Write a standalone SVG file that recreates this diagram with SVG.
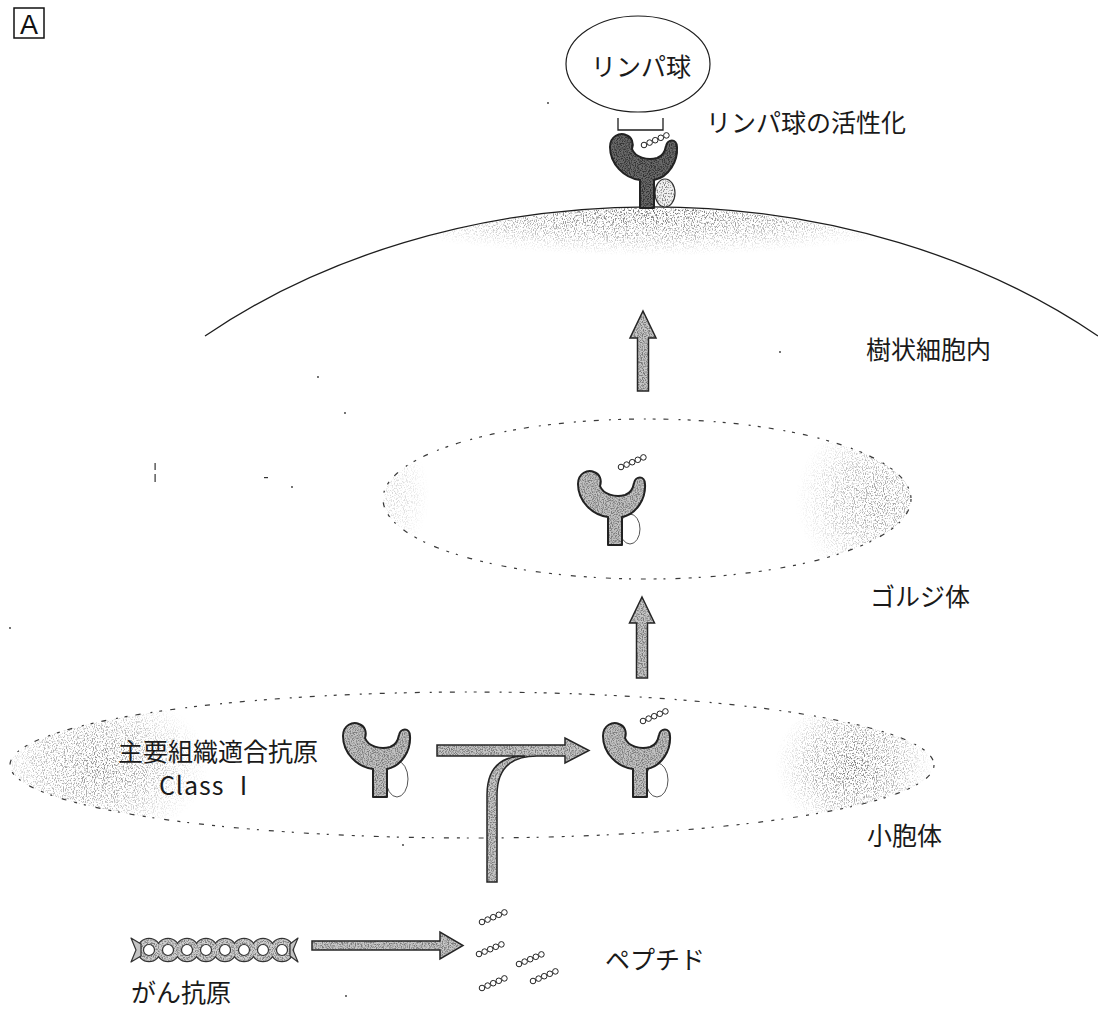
<svg xmlns="http://www.w3.org/2000/svg" xmlns:xlink="http://www.w3.org/1999/xlink" width="1098" height="1009" viewBox="0 0 1098 1009">
  <defs>
    <style>
      .lbl { font-family: "Noto Sans CJK JP", "Noto Sans", sans-serif; font-size: 25px; fill: #1a1a1a; }
      .outline { fill: none; stroke: #1e1e1e; stroke-width: 1.3; }
      .dotted { fill: none; stroke: #3a3a3a; stroke-width: 1.2; stroke-dasharray: 3 8 5 10 2 7; }
      .ybase { fill: #c2c2c2; }
      .ygrain { fill: #7c7c7c; }
      .yline { fill: none; stroke: #222; stroke-width: 2; stroke-linejoin: round; }
      .arrbase { fill: #c6c6c6; }
      .arrgrain { fill: #7a7a7a; }
      .arrline { fill: none; stroke: #262626; stroke-width: 1.5; stroke-linejoin: miter; }
      .pep { fill: #fff; stroke: #222; stroke-width: 1; }
      .b2m { fill: none; stroke: #555; stroke-width: 1; }
      .speck { fill: #333; }
    </style>

    <!-- speckled halftone texture: keeps the source only where the noise is dark -->
    <filter id="grain" x="-5%" y="-5%" width="110%" height="110%">
      <feTurbulence type="fractalNoise" baseFrequency="0.85" numOctaves="2" seed="4" result="noise"/>
      <feColorMatrix in="noise" type="matrix" values="0 0 0 0 0  0 0 0 0 0  0 0 0 0 0  4 0 0 0 -1.7" result="dots"/>
      <feComposite in="SourceGraphic" in2="dots" operator="in"/>
    </filter>
    <!-- sparser stipple for the shaded cytoplasm regions -->
    <filter id="stipple" x="-5%" y="-5%" width="110%" height="110%">
      <feTurbulence type="fractalNoise" baseFrequency="0.9 0.6" numOctaves="2" seed="9" result="noise"/>
      <feColorMatrix in="noise" type="matrix" values="0 0 0 0 0  0 0 0 0 0  0 0 0 0 0  5 0 0 0 -2.45" result="dots"/>
      <feComposite in="SourceGraphic" in2="dots" operator="in"/>
    </filter>

    <radialGradient id="shade">
      <stop offset="0" stop-color="#555" stop-opacity="1"/>
      <stop offset="0.55" stop-color="#777" stop-opacity="0.7"/>
      <stop offset="1" stop-color="#999" stop-opacity="0"/>
    </radialGradient>

    <!-- MHC class I heavy chain (Y shape), origin at stem bottom centre -->
    <path id="ymhc" d="M-7,0 L-7,-28 C-23,-30 -37,-44 -37,-61 C-37,-72 -27,-76 -21,-73 C-15,-71 -13,-65 -15,-59 C-12,-51 0,-47 10,-50 C16,-52 18,-56 19,-62 C20,-69 30,-70 30,-61 C31,-47 22,-31 7,-28 L7,0 Z"/>

    <!-- five-residue peptide chain -->
    <g id="pepchain">
      <circle class="pep" cx="0" cy="0" r="2.8"/>
      <circle class="pep" cx="5.6" cy="-2.4" r="2.8"/>
      <circle class="pep" cx="11.2" cy="-4.8" r="2.8"/>
      <circle class="pep" cx="16.8" cy="-7.2" r="2.8"/>
      <circle class="pep" cx="22.4" cy="-9.6" r="2.8"/>
    </g>

    <clipPath id="cellClip">
      <ellipse cx="650" cy="700" rx="661" ry="492"/>
    </clipPath>
    <clipPath id="golgiClip">
      <ellipse cx="647" cy="499" rx="264" ry="80"/>
    </clipPath>
    <clipPath id="erClip">
      <ellipse cx="472" cy="765" rx="462" ry="73"/>
    </clipPath>
  </defs>

  <rect width="1098" height="1009" fill="#fff"/>

  <!-- panel letter -->
  <g id="panel-label">
    <rect x="14" y="8" width="30" height="30" fill="none" stroke="#111" stroke-width="1.5"/>
    <text x="29" y="34" text-anchor="middle" font-family="Liberation Sans, sans-serif" font-size="27" fill="#111">A</text>
  </g>

  <!-- dendritic cell membrane with shaded cortex -->
  <g id="cell-membrane">
    <g clip-path="url(#cellClip)">
      <ellipse cx="650" cy="210" rx="290" ry="46" fill="url(#shade)" opacity="0.85" filter="url(#stipple)"/>
    </g>
    <path class="outline" d="M205,336 A661,492 0 0,1 1098,336"/>
  </g>

  <!-- Golgi apparatus -->
  <g id="golgi">
    <g clip-path="url(#golgiClip)">
      <ellipse cx="880" cy="500" rx="85" ry="85" fill="url(#shade)" opacity="0.6" filter="url(#stipple)"/>
      <ellipse cx="395" cy="495" rx="35" ry="55" fill="url(#shade)" opacity="0.25" filter="url(#stipple)"/>
    </g>
    <ellipse class="dotted" cx="647" cy="499" rx="264" ry="80"/>
  </g>

  <!-- endoplasmic reticulum (vesicle) -->
  <g id="er">
    <g clip-path="url(#erClip)">
      <ellipse cx="100" cy="765" rx="110" ry="75" fill="url(#shade)" opacity="0.7" filter="url(#stipple)"/>
      <ellipse cx="855" cy="765" rx="80" ry="70" fill="url(#shade)" opacity="0.8" filter="url(#stipple)"/>
    </g>
    <ellipse class="dotted" cx="472" cy="765" rx="462" ry="73"/>
  </g>

  <!-- lymphocyte -->
  <g id="lymphocyte">
    <ellipse cx="638" cy="64" rx="72" ry="48" fill="#fff" stroke="#1e1e1e" stroke-width="1.2"/>
    <text class="lbl" x="641" y="76" text-anchor="middle" font-size="27">リンパ球</text>
  </g>

  <!-- T-cell receptor contact bracket -->
  <g id="tcr-bracket">
    <path class="outline" d="M618,118 V130 H663 V118"/>
  </g>

  <!-- surface MHC class I presenting peptide -->
  <g id="mhc-surface">
    <ellipse cx="665" cy="193" rx="10" ry="14" fill="#f2f2f2" stroke="#333" stroke-width="1.2"/>
    <ellipse cx="665" cy="193" rx="9" ry="13" fill="#888" filter="url(#stipple)"/>
    <use href="#ymhc" transform="translate(647,208)" fill="#6a6a6a"/>
    <use href="#ymhc" transform="translate(647,208)" fill="#333" filter="url(#grain)"/>
    <use href="#ymhc" transform="translate(647,208)" class="yline"/>
    <use href="#pepchain" transform="translate(644,145)"/>
  </g>

  <!-- MHC class I in Golgi -->
  <g id="mhc-golgi">
    <ellipse class="b2m" cx="630" cy="529" rx="10" ry="15"/>
    <use href="#ymhc" transform="translate(615,545)" class="ybase"/>
    <use href="#ymhc" transform="translate(615,545)" class="ygrain" filter="url(#grain)"/>
    <use href="#ymhc" transform="translate(615,545)" class="yline"/>
    <use href="#pepchain" transform="translate(621,467)"/>
  </g>

  <!-- empty MHC class I in ER -->
  <g id="mhc-empty">
    <ellipse class="b2m" cx="397" cy="779" rx="11" ry="18"/>
    <use href="#ymhc" transform="translate(380,797)" class="ybase"/>
    <use href="#ymhc" transform="translate(380,797)" class="ygrain" filter="url(#grain)"/>
    <use href="#ymhc" transform="translate(380,797)" class="yline"/>
  </g>

  <!-- peptide-loaded MHC class I in ER -->
  <g id="mhc-loaded">
    <ellipse class="b2m" cx="657" cy="780" rx="11" ry="17"/>
    <use href="#ymhc" transform="translate(640,797)" class="ybase"/>
    <use href="#ymhc" transform="translate(640,797)" class="ygrain" filter="url(#grain)"/>
    <use href="#ymhc" transform="translate(640,797)" class="yline"/>
    <use href="#pepchain" transform="translate(643,721)"/>
  </g>

  <!-- cancer antigen protein -->
  <g id="cancer-antigen">
    <g stroke="#333" stroke-width="2.4" fill="#333">
      <circle cx="149" cy="950" r="11"/><circle cx="168" cy="950" r="11"/><circle cx="187" cy="950" r="11"/><circle cx="206" cy="950" r="11"/>
      <circle cx="225" cy="950" r="11"/><circle cx="244" cy="950" r="11"/><circle cx="263" cy="950" r="11"/><circle cx="282" cy="950" r="11"/>
    </g>
    <g fill="#d0d0d0">
      <circle cx="149" cy="950" r="11"/><circle cx="168" cy="950" r="11"/><circle cx="187" cy="950" r="11"/><circle cx="206" cy="950" r="11"/>
      <circle cx="225" cy="950" r="11"/><circle cx="244" cy="950" r="11"/><circle cx="263" cy="950" r="11"/><circle cx="282" cy="950" r="11"/>
    </g>
    <g fill="#808080" filter="url(#grain)">
      <circle cx="149" cy="950" r="11"/><circle cx="168" cy="950" r="11"/><circle cx="187" cy="950" r="11"/><circle cx="206" cy="950" r="11"/>
      <circle cx="225" cy="950" r="11"/><circle cx="244" cy="950" r="11"/><circle cx="263" cy="950" r="11"/><circle cx="282" cy="950" r="11"/>
    </g>
    <g fill="#fff" stroke="#333" stroke-width="1.2">
      <circle cx="149" cy="950" r="5.5"/><circle cx="168" cy="950" r="5.5"/><circle cx="187" cy="950" r="5.5"/><circle cx="206" cy="950" r="5.5"/>
      <circle cx="225" cy="950" r="5.5"/><circle cx="244" cy="950" r="5.5"/><circle cx="263" cy="950" r="5.5"/><circle cx="282" cy="950" r="5.5"/>
    </g>
    <path d="M131,938 L141,944 L141,956 L131,962 L136,950 Z M298,938 L290,944 L290,956 L298,962 L293,950 Z" fill="#c4c4c4" stroke="#333" stroke-width="1.2" stroke-linejoin="round"/>
  </g>

  <!-- peptide fragments -->
  <g id="peptides">
    <use href="#pepchain" transform="translate(482,922)"/>
    <use href="#pepchain" transform="translate(479,954)"/>
    <use href="#pepchain" transform="translate(519,964)"/>
    <use href="#pepchain" transform="translate(533,981)"/>
    <use href="#pepchain" transform="translate(482,988)"/>
  </g>

  <!-- connectors -->
  <g id="connectors">
    <!-- cancer antigen to peptides -->
    <g>
      <path class="arrbase" d="M312,941 H440 V932 L463,945.5 L440,959 V950 H312 Z"/>
      <path class="arrgrain" filter="url(#grain)" d="M312,941 H440 V932 L463,945.5 L440,959 V950 H312 Z"/>
      <path class="arrline" d="M312,941 H440 V932 L463,945.5 L440,959 V950 H312 Z"/>
    </g>
    <!-- peptides join the class I route into loading -->
    <g>
      <path class="arrbase" d="M437,745 H565 V738 L589,750.5 L565,763 V756 H537 Q497,756 497,795 V882 H487 V795 Q487,756 525,756 H437 Z"/>
      <path class="arrgrain" filter="url(#grain)" d="M437,745 H565 V738 L589,750.5 L565,763 V756 H537 Q497,756 497,795 V882 H487 V795 Q487,756 525,756 H437 Z"/>
      <path class="arrline" d="M437,745 H565 V738 L589,750.5 L565,763 V756 H537 Q497,756 497,795 V882 H487 V795 Q487,756 525,756 H437 Z"/>
    </g>
    <!-- ER to Golgi -->
    <g>
      <path class="arrbase" d="M642,597 L654.5,623 H647.5 V678 H636.5 V623 H629.5 Z"/>
      <path class="arrgrain" filter="url(#grain)" d="M642,597 L654.5,623 H647.5 V678 H636.5 V623 H629.5 Z"/>
      <path class="arrline" d="M642,597 L654.5,623 H647.5 V678 H636.5 V623 H629.5 Z"/>
    </g>
    <!-- Golgi to cell surface -->
    <g>
      <path class="arrbase" d="M643,311 L656,338 H648.5 V391 H637.5 V338 H630 Z"/>
      <path class="arrgrain" filter="url(#grain)" d="M643,311 L656,338 H648.5 V391 H637.5 V338 H630 Z"/>
      <path class="arrline" d="M643,311 L656,338 H648.5 V391 H637.5 V338 H630 Z"/>
    </g>
  </g>

  <!-- labels -->
  <g id="labels">
    <text class="lbl" x="706" y="132">リンパ球の活性化</text>
    <text class="lbl" x="866" y="359">樹状細胞内</text>
    <text class="lbl" x="870" y="606" font-size="26">ゴルジ体</text>
    <text class="lbl" x="218" y="761" text-anchor="middle" font-size="26">主要組織適合抗原</text>
    <text class="lbl" x="208" y="795" text-anchor="middle" font-size="27" letter-spacing="1">Class Ⅰ</text>
    <text class="lbl" x="867" y="845" font-size="28">小胞体</text>
    <text class="lbl" x="605" y="969" font-size="26">ペプチド</text>
    <text class="lbl" x="131" y="1002" font-size="27">がん抗原</text>
  </g>

  <!-- small print marks -->
  <g id="marks">
    <rect class="speck" x="154.5" y="463" width="1.2" height="7"/>
    <rect class="speck" x="154.5" y="474" width="1.2" height="8"/>
    <circle class="speck" cx="548" cy="103" r="0.9"/>
    <circle class="speck" cx="345" cy="413" r="0.9"/>
    <circle class="speck" cx="780" cy="352" r="0.9"/>
    <circle class="speck" cx="318" cy="377" r="0.9"/>
    <rect class="speck" x="264" y="477" width="4" height="1.2"/>
    <circle class="speck" cx="292" cy="487" r="0.9"/>
    <circle class="speck" cx="403" cy="845" r="0.9"/>
    <circle class="speck" cx="346" cy="996" r="0.9"/>
    <circle class="speck" cx="10" cy="628" r="0.9"/>
  </g>
</svg>
